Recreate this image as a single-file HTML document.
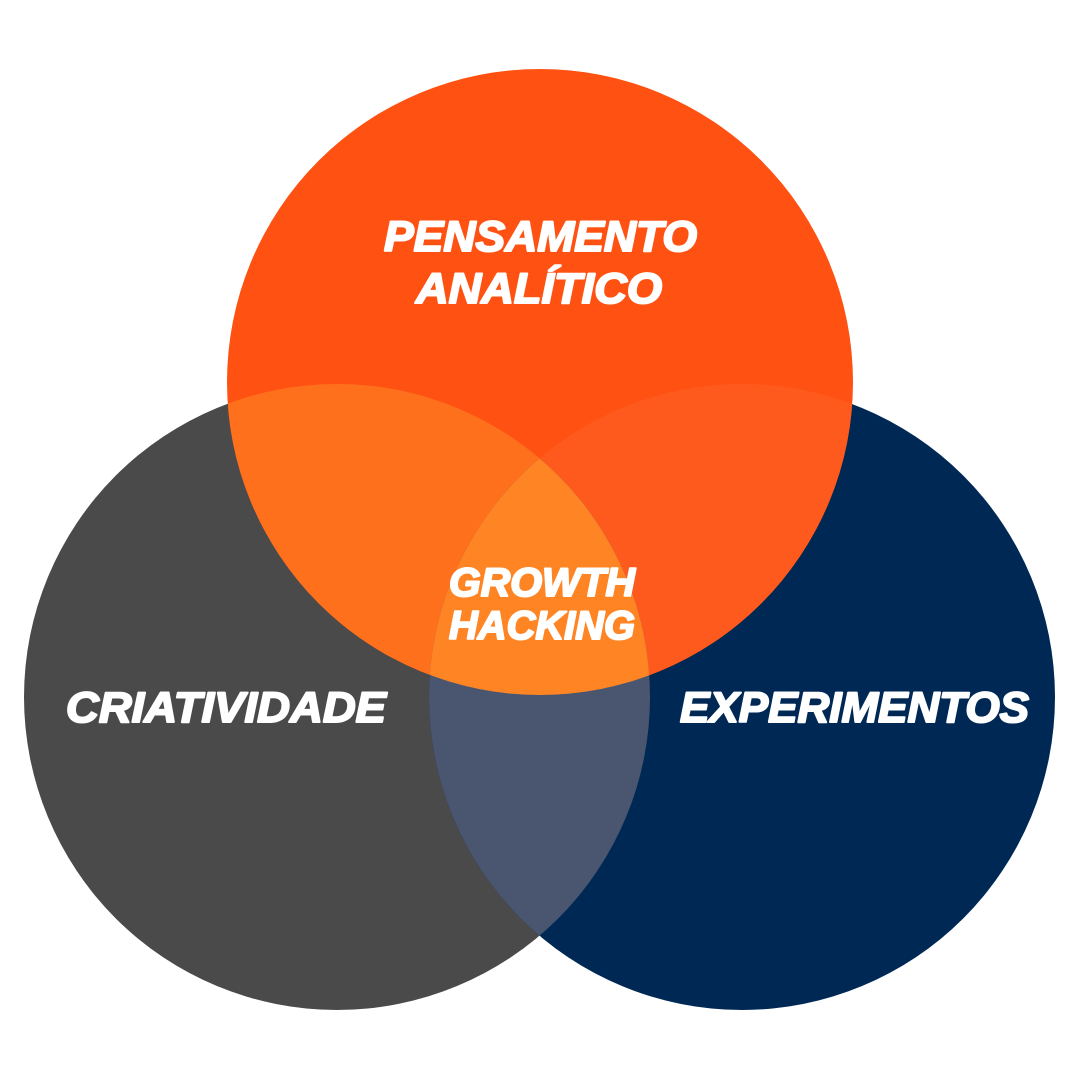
<!DOCTYPE html>
<html><head><meta charset="utf-8"><style>
html,body{margin:0;padding:0;background:#fff;}
svg{display:block;}
text{font-family:"Liberation Sans",sans-serif;font-weight:bold;font-style:italic;fill:#fff;stroke:#fff;stroke-width:2;stroke-linejoin:round;}
</style></head><body>
<svg width="1080" height="1080" viewBox="0 0 1080 1080">
<defs>
<clipPath id="cT"><circle cx="540" cy="382" r="313"/></clipPath>
<clipPath id="cL"><circle cx="337" cy="697" r="313"/></clipPath>
</defs>
<rect width="1080" height="1080" fill="#fff"/>
<circle cx="337" cy="697" r="313" fill="#4a4a4a"/>
<circle cx="742" cy="697" r="313" fill="#002855"/>
<circle cx="540" cy="382" r="313" fill="#ff5212"/>
<g clip-path="url(#cT)"><circle cx="337" cy="697" r="313" fill="#ff701d"/></g>
<g clip-path="url(#cT)"><circle cx="742" cy="697" r="313" fill="#ff5a1e"/></g>
<g clip-path="url(#cL)"><circle cx="742" cy="697" r="313" fill="#4a5670"/>
<g clip-path="url(#cT)"><circle cx="742" cy="697" r="313" fill="#ff8524"/></g></g>
<text x="384" y="251" font-size="43" textLength="313" lengthAdjust="spacingAndGlyphs">PENSAMENTO</text>
<text x="416" y="303" font-size="43" textLength="246" lengthAdjust="spacingAndGlyphs">ANALÍTICO</text>
<text x="449" y="596" font-size="40" textLength="186" lengthAdjust="spacingAndGlyphs">GROWTH</text>
<text x="449" y="639" font-size="40" textLength="186" lengthAdjust="spacingAndGlyphs">HACKING</text>
<text x="66" y="722" font-size="43" textLength="320" lengthAdjust="spacingAndGlyphs">CRIATIVIDADE</text>
<text x="680" y="722" font-size="43" textLength="349" lengthAdjust="spacingAndGlyphs">EXPERIMENTOS</text>
</svg>
</body></html>
